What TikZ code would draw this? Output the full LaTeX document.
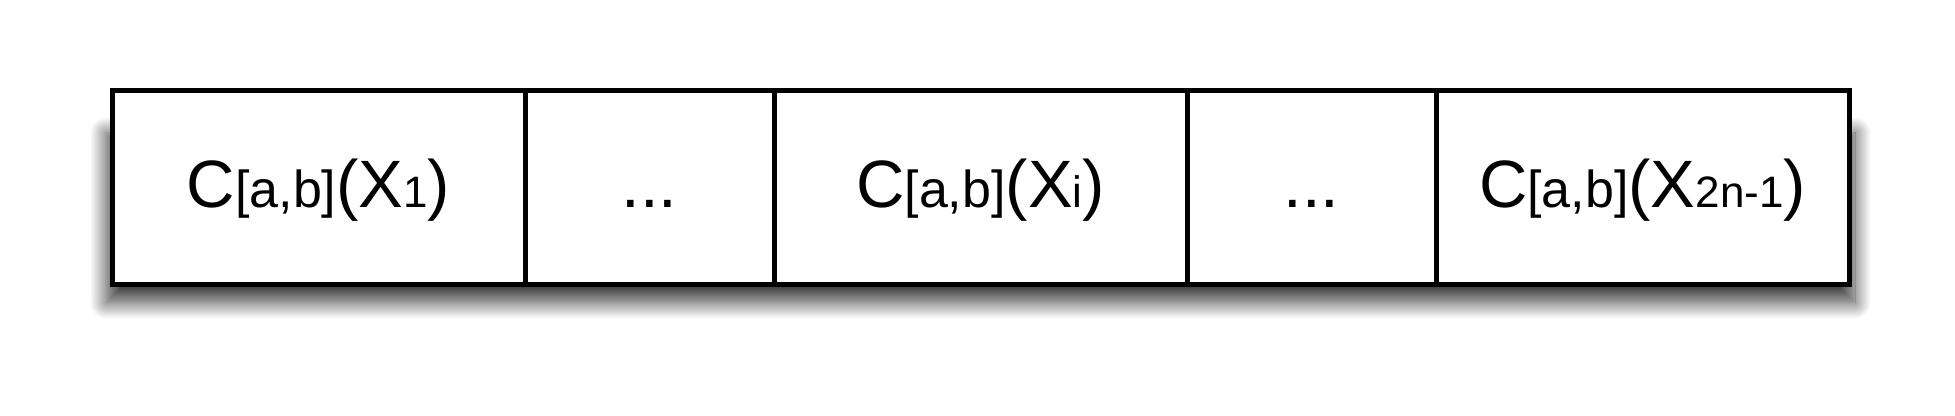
\documentclass[tikz,border=0pt]{standalone}
\usepackage{fontspec}
\setmainfont{Liberation Sans}
\usetikzlibrary{positioning,shadows.blur,backgrounds}

\tikzset{
  cell/.style={draw, fill=white, line width=2.5pt, outer sep=0pt, inner sep=0pt,
    minimum height=97pt, text height=26pt, text depth=6pt,
    font=\fontsize{33.5}{40}\selectfont},
  widecell/.style={cell, minimum width=206.5pt},
  narrowcell/.style={cell, minimum width=124.5pt},
}
\newcommand{\cabx}[1]{C{\fontsize{26}{30}\selectfont[a,b]}(X{\fontsize{22}{26}\selectfont #1})}

\begin{document}
\begin{tikzpicture}[x=0.5pt,y=0.5pt]
\useasboundingbox (0,0) rectangle (1955,416);
% the row of cells
\node[widecell, anchor=north west] (c1) at (112,325) {\cabx{1}};
\node[narrowcell, right=0pt of c1] (c2) {...};
\node[widecell, right=0pt of c2] (c3) {\cabx{i}};
\node[narrowcell, right=0pt of c3] (c4) {...};
\node[widecell, right=0pt of c4] (c5) {\cabx{2n-1}};
% shadow under the whole row
\begin{scope}[on background layer]
\path[blur shadow={shadow xshift=0pt, shadow yshift=-9pt, shadow blur radius=8pt,
    shadow blur steps=24, shadow opacity=75}]
  ([xshift=-3pt,yshift=-12pt]c1.north west) rectangle ([xshift=3pt]c5.south east);
\end{scope}
\end{tikzpicture}
\end{document}
